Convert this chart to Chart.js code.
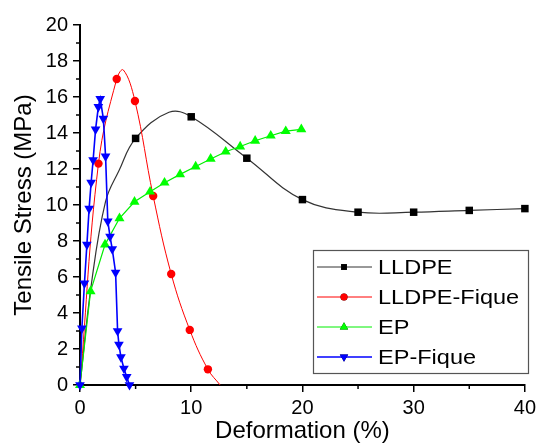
<!DOCTYPE html>
<html>
<head>
<meta charset="utf-8">
<script src="https://cdn.jsdelivr.net/npm/chart.js"></script>
<style>
  body { margin: 0; background: #fff; }
  #wrap { width: 540px; height: 448px; }
</style>
</head>
<body>
<div id="wrap"><canvas id="grafico"></canvas></div>
<script>
const seriesNames = ["LLDPE", "LLDPE-Fique", "EP", "EP-Fique"];

// LLDPE (values without marker trace the curve: start and peak)
const lldpeX = [0, 1.0, 2.3, 3.5, 5, 8.0, 10, 15, 20, 25, 30, 35, 40];
const lldpeY = [0, 5.5, 10.2, 11.9, 13.7, 15.15, 14.9, 12.6, 10.3, 9.6, 9.6, 9.7, 9.8];

const fiqueX = [0, 1.66, 3.3, 3.9, 4.94, 6.58, 8.2, 9.87, 11.5, 12.6];
const fiqueY = [0, 12.3, 17.0, 17.5, 15.78, 10.5, 6.17, 3.06, 0.87, 0];

const epX = [0, 0.95, 2.25, 3.55, 4.9, 6.3, 7.6, 9.0, 10.4, 11.75, 13.1, 14.4, 15.75, 17.15, 18.5, 19.9];
const epY = [0, 5.2, 7.8, 9.26, 10.18, 10.74, 11.24, 11.7, 12.14, 12.56, 12.96, 13.25, 13.57, 13.85, 14.1, 14.2];

const epFiqueX = [0, 0.17, 0.4, 0.62, 0.82, 1.0, 1.18, 1.4, 1.65, 1.82, 2.1, 2.3, 2.5, 2.7, 2.9, 3.2, 3.38, 3.5, 3.68, 3.95, 4.2, 4.45];
const epFiqueY = [0, 3.15, 5.65, 7.8, 9.8, 11.25, 12.5, 14.2, 15.45, 15.9, 14.8, 12.7, 9.1, 8.25, 7.55, 6.25, 3.0, 2.25, 1.55, 0.92, 0.45, 0];

const xTicks = [0, 10, 20, 30, 40];
const yTicks = [0, 2, 4, 6, 8, 10, 12, 14, 16, 18, 20];

const FONT = '"Liberation Sans", Arial, sans-serif';

const punti = function (xs, ys) {
  return xs.map(function (x, i) { return { x: x, y: ys[i] }; });
};

const stili = [
  { line: "#333333", fill: "#000000", shape: "rect", r: 5.3, lr: 4.2 },
  { line: "#ff0000", fill: "#ff0000", shape: "circle", r: 4.2, lr: 3.5 },
  { line: "#00ee00", fill: "#00ff00", shape: "triangle", r: 5.8, lr: 4.8 },
  { line: "#0000ff", fill: "#0000ff", shape: "triangle", rot: 180, r: 5.6, lr: 4.8 },
];

// indici senza simbolo (punti che seguono solo la curva)
const lldpeNoMark = [0, 1, 2, 3, 5];
const fiqueNoMark = [0, 3, 9];

// ticks minori + legenda disegnati a mano
const extraPlugin = {
  id: "extra",
  afterDraw: function (chart) {
    const ctx = chart.ctx;
    const xs = chart.scales.x;
    const ys = chart.scales.y;
    const area = chart.chartArea;
    ctx.save();
    ctx.strokeStyle = "#000";
    ctx.lineWidth = 1.5;
    for (let v = 1; v < 20; v += 2) {
      const py = ys.getPixelForValue(v);
      ctx.beginPath();
      ctx.moveTo(area.left - 4, py);
      ctx.lineTo(area.left, py);
      ctx.stroke();
    }
    for (let v = 5; v < 40; v += 10) {
      const px = xs.getPixelForValue(v);
      ctx.beginPath();
      ctx.moveTo(px, area.bottom);
      ctx.lineTo(px, area.bottom + 4);
      ctx.stroke();
    }

    // legenda
    const bx = 313, by = 250, bw = 215, bh = 123;
    ctx.fillStyle = "#fff";
    ctx.fillRect(bx, by, bw, bh);
    ctx.strokeStyle = "#555";
    ctx.lineWidth = 1.2;
    ctx.strokeRect(bx + 0.5, by + 0.5, bw, bh);
    seriesNames.forEach(function (nome, i) {
      const st = stili[i];
      const cy = by + 17 + i * 30;
      ctx.strokeStyle = st.line;
      ctx.lineWidth = i === 3 ? 1.5 : 1;
      ctx.beginPath();
      ctx.moveTo(bx + 4, cy);
      ctx.lineTo(bx + 59, cy);
      ctx.stroke();
      Chart.helpers.drawPoint(ctx, {
        pointStyle: st.shape,
        radius: st.lr,
        rotation: st.rot || 0,
        borderWidth: 0,
      }, bx + 31, cy);
      ctx.fillStyle = st.fill;
      ctx.fill();
      ctx.fillStyle = "#000";
      ctx.font = "21px " + FONT;
      ctx.textBaseline = "middle";
      ctx.save();
      ctx.translate(bx + 65, cy + 1);
      ctx.scale(1.12, 1);
      ctx.fillText(nome, 0, 0);
      ctx.restore();
    });
    ctx.restore();
  },
};

const canvas = document.getElementById("grafico");

const grafico = new Chart(canvas, {
  type: "line",
  data: {
    datasets: [
      {
        label: seriesNames[0],
        data: punti(lldpeX, lldpeY),
        borderColor: stili[0].line,
        borderWidth: 1.2,
        backgroundColor: stili[0].fill,
        pointStyle: "rect",
        pointRadius: function (c) { return lldpeNoMark.indexOf(c.dataIndex) >= 0 ? 0 : stili[0].r; },
        pointBorderWidth: 0,
        tension: 0.4,
        order: 4,
      },
      {
        label: seriesNames[1],
        data: punti(fiqueX, fiqueY),
        borderColor: stili[1].line,
        borderWidth: 1,
        backgroundColor: stili[1].fill,
        pointStyle: "circle",
        pointRadius: function (c) { return fiqueNoMark.indexOf(c.dataIndex) >= 0 ? 0 : stili[1].r; },
        pointBorderWidth: 0,
        tension: 0.4,
        order: 3,
      },
      {
        label: seriesNames[2],
        data: punti(epX, epY),
        borderColor: stili[2].line,
        borderWidth: 1.2,
        backgroundColor: stili[2].fill,
        pointStyle: "triangle",
        pointRadius: stili[2].r,
        pointBorderWidth: 0,
        tension: 0,
        order: 2,
      },
      {
        label: seriesNames[3],
        data: punti(epFiqueX, epFiqueY),
        borderColor: stili[3].line,
        borderWidth: 1.6,
        backgroundColor: stili[3].fill,
        pointStyle: "triangle",
        rotation: 180,
        pointRadius: stili[3].r,
        pointBorderWidth: 0,
        tension: 0,
        order: 1,
      },
    ],
  },
  options: {
    responsive: true,
    maintainAspectRatio: false,
    animation: false,
    clip: false,
    layout: { padding: { top: 25, right: 11, left: 0, bottom: 0 } },
    plugins: { legend: { display: false }, tooltip: { enabled: false } },
    scales: {
      x: {
        type: "linear",
        min: 0,
        max: 40,
        afterBuildTicks: function (s) { s.ticks = xTicks.map(function (v) { return { value: v }; }); },
        afterFit: function (s) { s.height = 63; },
        ticks: { color: "#000", font: { size: 20, family: FONT }, padding: 4, maxRotation: 0 },
        grid: { drawOnChartArea: false, tickLength: 7, color: "#000", lineWidth: 1.5 },
        border: { color: "#000", width: 2 },
        title: {
          display: true,
          text: "Deformation (%)",
          color: "#000",
          font: { size: 24, family: FONT },
          padding: { top: 0, bottom: 2 },
        },
      },
      y: {
        type: "linear",
        min: 0,
        max: 20,
        afterBuildTicks: function (s) { s.ticks = yTicks.map(function (v) { return { value: v }; }); },
        afterFit: function (s) { s.width = 80; },
        ticks: { color: "#000", font: { size: 20, family: FONT }, padding: 5 },
        grid: { drawOnChartArea: false, tickLength: 7, color: "#000", lineWidth: 1.5 },
        border: { color: "#000", width: 2 },
        title: {
          display: true,
          text: "Tensile Stress (MPa)",
          color: "#000",
          font: { size: 24, family: FONT },
          padding: { top: 10, bottom: 0 },
        },
      },
    },
  },
  plugins: [extraPlugin],
});
</script>
</body>
</html>
